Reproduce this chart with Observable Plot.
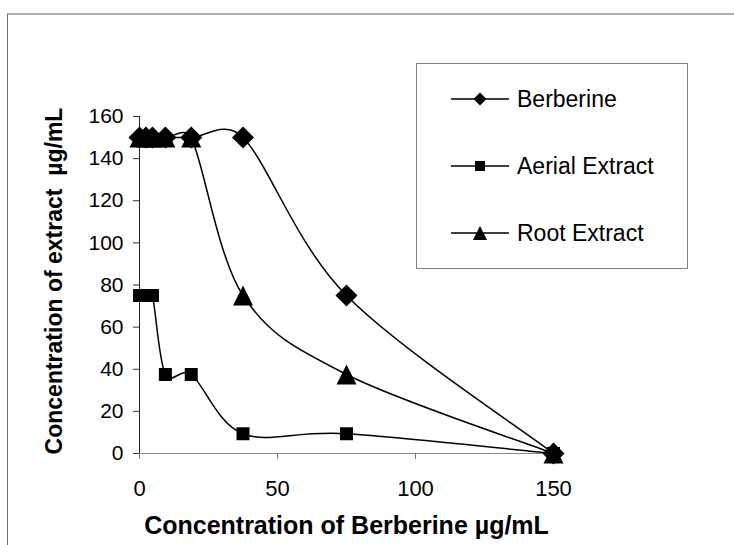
<!DOCTYPE html>
<html><head><meta charset="utf-8">
<script src="https://cdn.jsdelivr.net/npm/d3@7"></script>
<script src="https://cdn.jsdelivr.net/npm/@observablehq/plot@0.6"></script>
<style>
body{margin:0;background:#fff;font-family:"Liberation Sans",Arial,sans-serif;}
#wrap{position:relative;width:734px;height:545px;overflow:hidden;background:#fff;}
#chart svg{position:absolute;left:0;top:0;}
#frame{position:absolute;left:7px;top:13px;right:-3px;bottom:-3px;border-top:2px solid #b0b0b0;border-left:1px solid #707070;}
#legend{position:absolute;left:416px;top:63px;width:272px;height:206px;border:1px solid #808080;box-sizing:border-box;background:#fff;}
.row{position:absolute;left:0;height:30px;display:flex;align-items:center;}
.row span{font-size:23px;color:#000;margin-left:8px;white-space:pre;}
</style></head><body>
<div id="wrap"><div id="chart"></div><div id="frame"></div><div id="legend"></div></div>
<script>
// ---- data ----
const concentrations = [0, 2.34, 4.69, 9.375, 18.75, 37.5, 75, 150];
const berberineValues = [150, 150, 150, 150, 150, 150, 75, 0];
const aerialValues = [75, 75, 75, 37.5, 37.5, 9.375, 9.375, 0];
const rootValues = [150, 150, 150, 150, 150, 75, 37.5, 0];
const seriesNames = ["Berberine", "Aerial Extract", "Root Extract"];
const xTicks = [0, 50, 100, 150];
const yTicks = [0, 20, 40, 60, 80, 100, 120, 140, 160];
const xTitle = "Concentration of Berberine µg/mL";
const yTitle = "Concentration of extract \u00a0µg/mL";

// ---- Excel-style smoothed line (Bezier with capped 1/6 tangents) ----
function excelSmooth(context) {
  let pts;
  return {
    areaStart() {}, areaEnd() {},
    lineStart() { pts = []; },
    point(x, y) { pts.push([+x, +y]); },
    lineEnd() {
      const n = pts.length;
      if (!n) return;
      context.moveTo(pts[0][0], pts[0][1]);
      for (let i = 0; i < n - 1; i++) {
        const p0 = pts[Math.max(i - 1, 0)], p1 = pts[i], p2 = pts[i + 1], p3 = pts[Math.min(i + 2, n - 1)];
        const d12 = Math.hypot(p2[0] - p1[0], p2[1] - p1[1]);
        const d02 = Math.hypot(p2[0] - p0[0], p2[1] - p0[1]);
        const d13 = Math.hypot(p3[0] - p1[0], p3[1] - p1[1]);
        let f1 = 1 / 6, f2 = 1 / 6;
        if (d02 > 0 && d02 / 6 > d12 / 2) f1 = d12 / (2 * d02);
        if (d13 > 0 && d13 / 6 > d12 / 2) f2 = d12 / (2 * d13);
        context.bezierCurveTo(
          p1[0] + (p2[0] - p0[0]) * f1, p1[1] + (p2[1] - p0[1]) * f1,
          p2[0] - (p3[0] - p1[0]) * f2, p2[1] - (p3[1] - p1[1]) * f2,
          p2[0], p2[1]);
      }
    }
  };
}

// ---- symbols ----
const diamond = {draw(c, size){const r = Math.sqrt(size/Math.PI); c.moveTo(0,-r); c.lineTo(r,0); c.lineTo(0,r); c.lineTo(-r,0); c.closePath();}};
const square = {draw(c, size){const r = Math.sqrt(size/Math.PI); c.moveTo(-r,-r); c.lineTo(r,-r); c.lineTo(r,r); c.lineTo(-r,r); c.closePath();}};
const triangle = {draw(c, size){const r = Math.sqrt(size/Math.PI); c.moveTo(0,-r); c.lineTo(r,r); c.lineTo(-r,r); c.closePath();}};
const symbols = [diamond, square, triangle];
const chartR = [11, 6.5, 10];
const legendR = [6.5, 5, 7];

const valueSets = [berberineValues, aerialValues, rootValues];
const table = seriesNames.map((name, i) => concentrations.map((c, j) => ({series: name, x: c, y: valueSets[i][j]})));

const marks = [
  Plot.ruleY([0], {x1: 0, x2: 150, stroke: "#8a8a8a", strokeWidth: 1}),
  Plot.ruleX([0], {y1: 0, y2: 160, stroke: "#222", strokeWidth: 1}),
  Plot.axisX({ticks: xTicks, tickSize: 6, tickPadding: 21, fontSize: 22, stroke: "#777", label: null, tickFormat: d => String(d)}),
  Plot.axisY({ticks: yTicks, tickSize: 6, tickPadding: 10, fontSize: 21, stroke: "#333", label: null, tickFormat: d => String(d)}),
  Plot.text([xTitle], {text: d => d, frameAnchor: "bottom", dy: 72, textAnchor: "middle", lineAnchor: "middle", fontSize: 25, fontWeight: "bold", fill: "#000"}),
  Plot.text([yTitle], {text: d => d, frameAnchor: "left", dx: -85, dy: -4, rotate: -90, textAnchor: "middle", lineAnchor: "middle", fontSize: 23, fontWeight: "bold", fill: "#000"})
];
table.forEach((rows) => {
  marks.push(Plot.line(rows, {x: "x", y: "y", curve: excelSmooth, stroke: "#000", strokeWidth: 1.5}));
});
table.forEach((rows, i) => {
  marks.push(Plot.dot(rows, {x: "x", y: "y", symbol: symbols[i], r: chartR[i], fill: "#000", stroke: "none"}));
});

const svg = Plot.plot({
  width: 734, height: 545,
  marginLeft: 139, marginRight: 181, marginTop: 116, marginBottom: 92,
  x: {domain: [0, 150]},
  y: {domain: [0, 160]},
  style: {fontFamily: "'Liberation Sans', Arial, sans-serif", color: "#000", background: "transparent"},
  marks
});
document.getElementById("chart").appendChild(svg);

// ---- legend ----
const legend = document.getElementById("legend");
const rowTops = [20, 87, 154];
seriesNames.forEach((name, i) => {
  const row = document.createElement("div");
  row.className = "row";
  row.style.top = rowTops[i] + "px";
  row.style.left = "34px";
  const p = d3.path();
  symbols[i].draw(p, Math.PI * legendR[i] * legendR[i]);
  row.innerHTML = `<svg width="58" height="30" viewBox="-29 -15 58 30"><line x1="-29" x2="29" y1="0" y2="0" stroke="#000" stroke-width="1.5"/><path d="${p.toString()}" fill="#000"/></svg><span>${name}</span>`;
  legend.appendChild(row);
});
</script>
</body></html>
